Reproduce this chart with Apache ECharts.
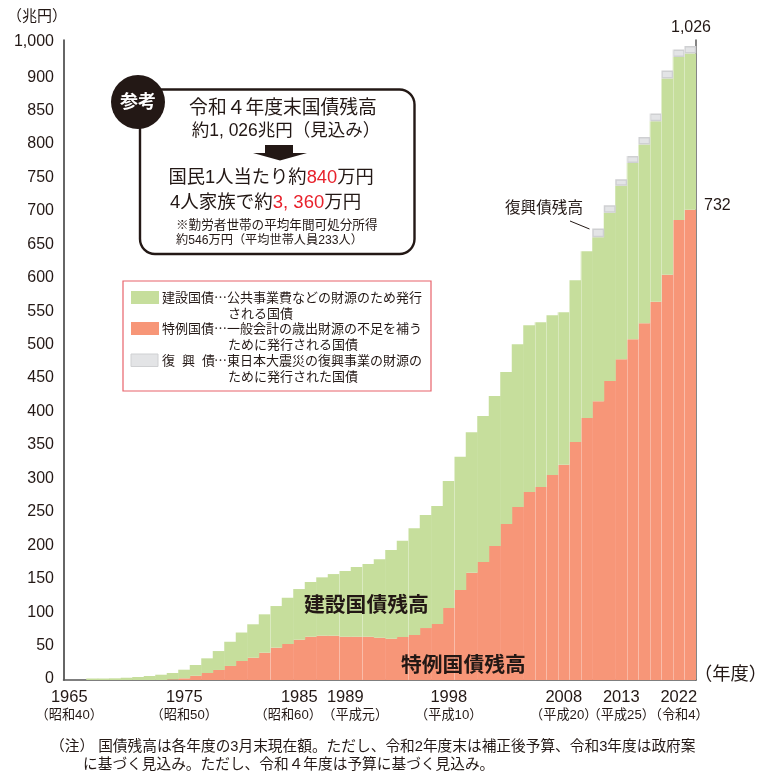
<!DOCTYPE html>
<html lang="ja">
<head>
<meta charset="utf-8">
<style>html,body{margin:0;padding:0;background:#fff}#c{width:759px;height:773px}</style>
<script src="https://cdn.jsdelivr.net/npm/echarts@6/dist/echarts.min.js"></script>
</head>
<body>
<div id="c"></div>
<script>
// One band per bar, in the order the reference draws them.
const categories = [
  '1965','1966','1967','1968','1969','1970','1971','1972','1973','1974',
  '1975','1976','1977','1978','1979','1980','1981','1982','1983','1984',
  '1985','1986','1987','1988','1989','1990','1991','1992','1993','1994',
  '1995','1996','1997','1998','1999','2000','2001','2002','2003','2004',
  '2005','2006','2007','2008','2009','2010','2011','2012','2013','2014',
  '2015','2016','2017','2018','2022'
];
// Read against the printed tick marks of the reference.
const kenchiku = [
  0,0,2.2,2.2,2.5,3.4,4.5,6,7.9,9.5,
  12.9,16.1,21.9,28.3,36.2,42.6,50,57.4,62.3,69.2,
  75.8,81.8,87.3,92.2,98.3,104.3,108.7,117.2,132.6,143.9,
  159.5,168.9,176.3,189.9,199.3,209.9,218.2,224.2,227.2,243.6,
  249.6,246.6,239.2,228,242.1,249.7,245.2,251.5,259.1,263.5,
  267.1,270.1,293.6,243.7,233.5
];
const tokurei = [
  0,0,0,0,0,0,0,0,0,1,
  2.5,6.3,10.5,15,21,28.4,33.3,40.8,48.3,53.8,
  60.2,64.7,66.2,66.2,64.7,64.7,64.7,63.2,61.7,64.3,
  67.3,77.7,83.7,107.6,134.5,160.4,176.4,200.3,233.2,258.6,
  281,288.5,306.4,322,355.8,391.6,417,447,479.8,509.7,
  533.6,565.5,605.8,688,703.3
];
const fukko = [
  null,null,null,null,null,null,null,null,null,null,
  null,null,null,null,null,null,null,null,null,null,
  null,null,null,null,null,null,null,null,null,null,
  null,null,null,null,null,null,null,null,null,null,
  null,null,null,null,null,null,13,11.5,10,10.5,
  11.4,11.5,12,11,11.4
];
// The printed scale: the reference's topmost label sits where 950 would fall.
const yTickLabels = {0:'0',50:'50',100:'100',150:'150',200:'200',250:'250',300:'300',350:'350',
  400:'400',450:'450',500:'500',550:'550',600:'600',650:'650',700:'700',750:'750',800:'800',
  850:'850',900:'900',950:'{top|1,000}'};
const xTickLabels = {
  '1965':['1965','（昭和40）','p'],'1975':['1975','（昭和50）','p'],'1985':['1985','（昭和60）','pL'],
  '1989':['1989','（平成元）','pR'],'1998':['1998','（平成10）','p'],'2008':['2008','（平成20）','p'],
  '2013':['2013','（平成25）','p'],'2018':['2022','（令和4）','p']
};
const separatorBands = [18,24,26,30,34,41,42,43,44,45,49,50,51,52,53,54];

const FONT = '"Liberation Sans","Noto Sans CJK JP",sans-serif';
const CJK = '"Noto Sans CJK JP",sans-serif';
const INK = '#231815';
const GREEN = '#c6de9c', RED = '#f79678', GREY = '#e3e4e6', GREY_EDGE = '#cfd0d2';

function t(x, y, text, fontSize, extra) {
  return {type:'text', x, y, z:20, silent:true, style:Object.assign({
    text, fontSize, fontFamily:FONT, fill:INK, textVerticalAlign:'middle', verticalAlign:'middle'
  }, extra || {})};
}
const legendRows = [
  [162,297,'建設国債…公共事業費などの財源のため発行'],
  [228,313,'される国債'],
  [162,328,'特例国債…一般会計の歳出財源の不足を補う'],
  [228,344,'ために発行される国債'],
  [162,360,'復'],[182,360,'興'],[202,360,'債'],
  [214,360,'…東日本大震災の復興事業の財源の'],
  [228,376,'ために発行された国債']
];
const rr = s => ({a:{fontSize:s,fontFamily:FONT,fill:INK},r:{fontSize:s,fontFamily:FONT,fill:'#e8222c'}});
const graphics = [
  // callout
  {type:'rect', z:19, silent:true, shape:{x:140,y:89.5,width:274.5,height:164.5,r:15}, style:{fill:'#fff',stroke:INK,lineWidth:2.4}},
  {type:'circle', z:20, silent:true, shape:{cx:138,cy:102,r:27}, style:{fill:INK}},
  t(138,103,'参考',18,{fill:'#fff',fontWeight:'bold',align:'center'}),
  t(283,109,'令和４年度末国債残高',18.8,{align:'center'}),
  t(286,131,'約1, 026兆円（見込み）',17.5,{align:'center'}),
  {type:'polygon', z:20, silent:true, shape:{points:[[265,145],[293,145],[293,153],[307,153],[280,160.5],[253,153],[265,153]]}, style:{fill:INK}},
  t(168.5,177.5,'{a|国民1人当たり約}{r|840}{a|万円}',18.3,{rich:rr(18.3)}),
  t(170,202.5,'{a|4人家族で約}{r|3, 360}{a|万円}',18.5,{rich:rr(18.5)}),
  t(176,226,'※勤労者世帯の平均年間可処分所得',12.6),
  t(176,241,'約546万円（平均世帯人員233人）',12.2),
  // legend
  {type:'rect', z:19, silent:true, shape:{x:123,y:281,width:308,height:110}, style:{fill:'#fff',stroke:'#e8636b',lineWidth:1.2}},
  {type:'rect', z:20, silent:true, shape:{x:131,y:291,width:28,height:13}, style:{fill:GREEN}},
  {type:'rect', z:20, silent:true, shape:{x:131,y:322,width:28,height:13}, style:{fill:RED}},
  {type:'rect', z:20, silent:true, shape:{x:131,y:354,width:27,height:12.5}, style:{fill:GREY,stroke:GREY_EDGE,lineWidth:1}},
  ...legendRows.map(r => t(r[0],r[1],r[2],13,{fontFamily:CJK})),
  // free-standing annotations
  t(7,17,'（兆円）',15),
  t(691,28,'1,026',16,{align:'center'}),
  t(704,206,'732',16),
  t(505,209,'復興債残高',15.6),
  {type:'line', z:20, silent:true, shape:{x1:570,y1:221,x2:589.5,y2:229}, style:{stroke:INK,lineWidth:1}},
  t(304,606,'建設国債残高',20.8,{fontWeight:'bold'}),
  t(401,666,'特例国債残高',20.8,{fontWeight:'bold'}),
  t(694,674.5,'（年度）',18.3),
  t(50,747,'（注） 国債残高は各年度の3月末現在額。ただし、令和2年度末は補正後予算、令和3年度は政府案',14.7),
  t(83,765,'に基づく見込み。ただし、令和４年度は予算に基づく見込み。',14.7)
];

const chart = echarts.init(document.getElementById('c'), null, {renderer:'canvas'});
chart.setOption({
  animation:false,
  backgroundColor:'#fff',
  grid:{left:63.5, top:40, width:632.5, height:640},
  xAxis:[
    {type:'category', data:categories, position:'bottom',
     axisLine:{lineStyle:{color:'#555',width:1.5}}, axisTick:{show:false}, splitLine:{show:false},
     axisLabel:{interval:0, hideOverlap:false, margin:7.5, align:'center',
       formatter:v => xTickLabels[v] ? '{y|'+xTickLabels[v][0]+'}\n{'+xTickLabels[v][2]+'|'+xTickLabels[v][1]+'}' : '',
       rich:{y:{fontSize:16.5,fontFamily:FONT,color:INK,lineHeight:19,align:'center'},
             p:{fontSize:13.2,fontFamily:FONT,color:INK,lineHeight:18,align:'center'},
             pL:{fontSize:13.2,fontFamily:FONT,color:INK,lineHeight:18,align:'center',padding:[0,22,0,0]},
             pR:{fontSize:13.2,fontFamily:FONT,color:INK,lineHeight:18,align:'center',padding:[0,0,0,20]}}}},
    {type:'value', min:0, max:55, show:false}
  ],
  yAxis:[
    {type:'value', min:0, max:957, interval:50,
     axisLine:{show:true,lineStyle:{color:'#333',width:1.5}}, axisTick:{show:false}, splitLine:{show:false},
     axisLabel:{margin:9.5, fontSize:16, fontFamily:FONT, color:INK, padding:[0,0,2,0], showMaxLabel:false,
       formatter:v => yTickLabels[v] || '',
       rich:{top:{fontSize:16,fontFamily:FONT,color:INK,padding:[0,0,4,0]}}}},
    {type:'value', min:0, max:957, position:'right',
     axisLine:{show:true,lineStyle:{color:'#666',width:1.6}}, axisTick:{show:false}, axisLabel:{show:false}, splitLine:{show:false}}
  ],
  series:[
    {name:'特例国債', type:'bar', stack:'debt', data:tokurei, barWidth:12, itemStyle:{color:RED}},
    {name:'建設国債', type:'bar', stack:'debt', data:kenchiku, barWidth:12, itemStyle:{color:GREEN}},
    {name:'復興債', type:'bar', stack:'debt', data:fukko, barWidth:12,
     itemStyle:{color:GREY,borderColor:GREY_EDGE,borderWidth:1.5}},
    {type:'line', xAxisIndex:1, yAxisIndex:0, data:[], silent:true,
     markLine:{silent:true, symbol:'none', animation:false, label:{show:false},
       lineStyle:{color:'rgba(255,255,255,0.32)',type:'solid',width:1},
       data:separatorBands.map(b => ({xAxis:b}))}}
  ],
  graphic:graphics
});
</script>
</body>
</html>
